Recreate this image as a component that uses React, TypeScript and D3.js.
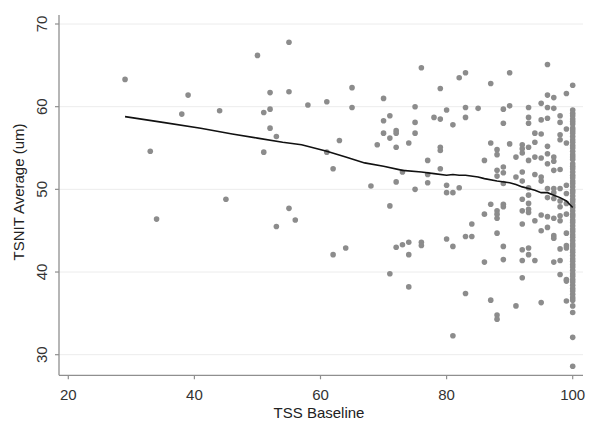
import React from "react";
import * as d3 from "d3";

const xTicks = [20, 40, 60, 80, 100];
const yTicks = [30, 40, 50, 60, 70];

// scattered points (TSS Baseline, TSNIT Average)
const ptX = [
  29, 33, 34, 38, 39, 44, 45, 50, 51, 51, 52, 52, 52, 53, 53, 55, 55, 55, 56,
  58, 61, 61, 62, 62, 63, 64, 65, 65, 68, 69, 70, 70, 70, 71, 71, 71, 71,
  72, 72, 72, 72, 72, 73, 73, 74, 74, 74, 74, 75, 75, 75, 75, 76, 76, 76,
  77, 77, 77, 78, 79, 79, 79, 79, 79, 80, 80, 80, 80, 81, 81, 81, 81, 82, 82,
  83, 83, 83, 83, 83, 84, 84, 85, 86, 86, 86, 87, 87, 87, 87,
  88, 88, 88, 88, 88, 88, 88, 88, 88, 88, 89, 89, 89, 89, 89, 89, 89, 89, 89,
  90, 90, 90, 91, 91, 91, 92, 92, 92, 92, 92, 92, 92, 92, 92, 92, 92,
  93, 93, 93, 93, 93, 93, 93, 93, 93, 93, 93, 93,
  94, 94, 94, 94, 94, 94, 95, 95, 95, 95, 95, 95, 95, 95, 95,
  96, 96, 96, 96, 96, 96, 96, 96, 96, 96, 96,
  97, 97, 97, 97, 97, 97, 97, 97, 97, 97, 97, 97,
  98, 98, 98, 98, 98, 98, 98, 98, 98, 98, 98, 98, 98,
  99, 99, 99, 99, 99, 99, 99, 99, 99, 99, 99, 99, 99,
];
const ptY = [
  63.3, 54.6, 46.4, 59.1, 61.4, 59.5, 48.8, 66.2, 59.3, 54.5, 61.7, 59.7, 57.4, 56.4, 45.5, 67.8, 61.8, 47.7, 46.3,
  60.2, 60.6, 54.5, 52.5, 42.1, 55.9, 42.9, 62.3, 59.9, 50.4, 55.4, 61.0, 58.3, 56.8, 58.9, 56.2, 48.0, 39.8,
  57.1, 56.8, 55.1, 50.9, 43.0, 52.1, 43.3, 55.6, 43.6, 42.1, 38.2, 60.0, 58.1, 56.8, 50.0, 64.7, 43.6, 43.2,
  53.5, 51.8, 50.8, 58.7, 62.2, 58.5, 55.1, 54.7, 52.5, 59.6, 50.5, 49.6, 44.0, 57.8, 49.6, 43.1, 32.3, 63.5, 50.2,
  64.1, 59.9, 58.7, 44.3, 37.4, 44.3, 45.8, 59.8, 53.5, 47.0, 41.2, 62.8, 55.6, 48.2, 36.6,
  54.8, 54.2, 52.3, 51.6, 47.4, 46.5, 44.7, 34.8, 34.3, 47.0, 59.7, 58.0, 52.7, 52.0, 50.7, 48.2, 47.9, 43.1, 41.5,
  64.1, 60.1, 55.5, 53.9, 51.5, 35.9, 55.4, 54.9, 54.4, 52.1, 51.0, 47.4, 45.8, 42.7, 41.4, 39.3, 48.8,
  59.9, 58.7, 58.0, 55.1, 53.5, 50.2, 49.3, 48.3, 47.6, 47.2, 42.9, 42.1,
  56.8, 55.7, 53.9, 51.8, 46.2, 41.4, 60.4, 58.4, 56.7, 53.8, 51.5, 51.0, 46.9, 45.0, 36.3,
  65.1, 61.4, 59.9, 58.6, 55.2, 54.3, 53.1, 50.1, 49.0, 46.7, 45.4,
  61.1, 59.8, 53.9, 53.4, 52.3, 50.1, 49.6, 46.5, 44.4, 44.1, 41.2, 48.9,
  58.9, 58.1, 56.6, 56.0, 52.4, 50.1, 48.6, 46.8, 46.2, 42.8, 41.4, 39.7, 47.9,
  61.6, 57.3, 55.6, 50.5, 49.5, 47.0, 44.7, 43.2, 42.9, 39.1, 38.9, 36.5, 48.3,
];

// dense column of points at TSS Baseline = 100
const col100Y = [
  62.6, 59.6, 59.2, 58.9, 58.5, 58.2, 57.9, 57.4, 57.1, 56.8, 56.4, 56.0, 55.7,
  55.3, 55.0, 54.6, 54.2, 53.9, 53.6, 53.1, 52.8, 52.5, 52.1, 51.7, 51.4, 51.0,
  50.7, 50.3, 49.9, 49.6, 49.2, 48.8, 48.5, 48.1, 47.8, 47.4, 47.0, 46.7, 46.3,
  46.0, 45.6, 45.2, 44.9, 44.5, 44.2, 43.8, 43.4, 43.1, 42.7, 42.4, 42.0, 41.6,
  41.3, 40.9, 40.6, 40.2, 39.8, 39.5, 39.1, 38.8, 38.4, 38.0, 37.7, 37.3, 36.9,
  36.6, 35.9, 35.1, 32.1, 28.6,
];

// smoothed (lowess) line
const lineX = [29, 35, 41, 46, 50, 54, 57, 61, 64, 67, 70, 73, 76, 78, 80, 81, 82, 83, 85, 86, 88, 90, 91, 92, 93, 94, 95, 96, 97, 98, 99, 100];
const lineY = [58.8, 58.1, 57.4, 56.7, 56.2, 55.7, 55.4, 54.6, 53.9, 53.2, 52.8, 52.3, 52.1, 51.9, 51.7, 51.8, 51.7, 51.7, 51.5, 51.3, 51.0, 50.8, 50.6, 50.3, 50.1, 49.9, 49.6, 49.6, 49.3, 49.0, 48.6, 47.8];

const W = 601;
const H = 424;
const axisColor = "#8f8f8f";
const dotColor = "#8c8c8c";
const font = "'Liberation Sans', Arial, sans-serif";

export default function App() {
  const x = d3.scaleLinear().domain([20, 100]).range([68.3, 572.7]);
  const y = d3.scaleLinear().domain([30, 70]).range([354.7, 24]);
  const left = 59;
  const bottom = 375.3;
  const right = 583;
  const top = 15;

  const pts = ptX.map((v, i) => ({ x: v, y: ptY[i] }));
  col100Y.forEach((v) => pts.push({ x: 100, y: v }));

  const line = d3
    .line<number>()
    .x((_, i) => x(lineX[i]))
    .y((d) => y(d))
    .curve(d3.curveLinear);

  return (
    <svg
      width={W}
      height={H}
      style={{ position: "absolute", left: 0, top: 0, background: "#fff" }}
      fontFamily={font}
    >
      <rect x={0} y={0} width={W} height={H} fill="#fff" />
      {yTicks.map((t) => (
        <line key={"g" + t} x1={left} x2={right} y1={y(t)} y2={y(t)} stroke="#ececec" strokeWidth={1} />
      ))}
      {pts.map((p, i) => (
        <circle key={i} cx={x(p.x)} cy={y(p.y)} r={2.8} fill={dotColor} />
      ))}
      <path d={line(lineY) || ""} fill="none" stroke="#111" strokeWidth={1.6} />
      <line x1={left} x2={left} y1={top} y2={bottom} stroke={axisColor} strokeWidth={1.3} />
      <line x1={left} x2={right} y1={bottom} y2={bottom} stroke={axisColor} strokeWidth={1.3} />
      {yTicks.map((t) => (
        <g key={"yt" + t}>
          <line x1={left - 4} x2={left} y1={y(t)} y2={y(t)} stroke={axisColor} strokeWidth={1.2} />
          <text
            transform={`translate(47,${y(t)}) rotate(-90)`}
            textAnchor="middle"
            fontSize={15}
            fill="#333"
          >
            {t}
          </text>
        </g>
      ))}
      {xTicks.map((t) => (
        <g key={"xt" + t}>
          <line x1={x(t)} x2={x(t)} y1={bottom} y2={bottom + 4} stroke={axisColor} strokeWidth={1.2} />
          <text x={x(t)} y={400} textAnchor="middle" fontSize={15} fill="#333">
            {t}
          </text>
        </g>
      ))}
      <text x={319} y={418} textAnchor="middle" fontSize={15} fill="#222">
        TSS Baseline
      </text>
      <text transform="translate(24,192) rotate(-90)" textAnchor="middle" fontSize={15} fill="#222">
        TSNIT Average (um)
      </text>
    </svg>
  );
}
